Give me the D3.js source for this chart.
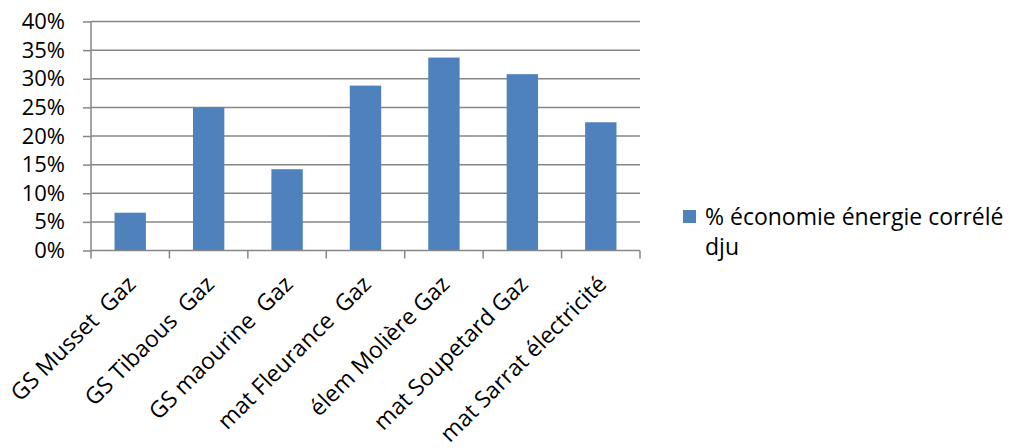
<!DOCTYPE html>
<html lang="fr">
<head>
    <meta charset="UTF-8">
    <title>% économie énergie corrélé dju</title>
    <script src="https://d3js.org/d3.v7.min.js"></script>
    <style>
        body {
            margin: 0;
            padding: 0;
            background: #ffffff;
            overflow: hidden;
        }
        svg {
            display: block;
        }
        text {
            font-family: "Open Sans", "Noto Sans", sans-serif;
            fill: #000;
            white-space: pre;
        }
    </style>
</head>
<body>
    <script>
        // data
        const categories = [
            "GS Musset  Gaz",
            "GS Tibaous  Gaz",
            "GS maourine  Gaz",
            "mat Fleurance  Gaz",
            "élem Molière Gaz",
            "mat Soupetard Gaz",
            "mat Sarrat électricité"
        ];
        const values = [0.066, 0.250, 0.142, 0.288, 0.337, 0.308, 0.224];
        const yTicks = [0, 0.05, 0.10, 0.15, 0.20, 0.25, 0.30, 0.35, 0.40];
        const seriesName = ["% économie énergie corrélé", "dju"];

        const width = 1010, height = 448;
        const plotLeft = 91, plotRight = 640, plotTop = 21.5, plotBottom = 250.5;
        const grey = "#868686";
        const barColor = "#4f81bd";

        const svg = d3.select("body").append("svg")
            .attr("width", width)
            .attr("height", height);

        const x = d3.scaleBand()
            .domain(categories)
            .range([plotLeft, plotRight])
            .paddingInner(0.6)
            .paddingOuter(0.3);

        const y = d3.scaleLinear()
            .domain([0, 0.4])
            .range([plotBottom, plotTop]);

        // y ticks and labels
        const yAxis = d3.axisLeft(y)
            .tickValues(yTicks)
            .tickFormat(d3.format(".0%"))
            .tickSize(8)
            .tickPadding(18);

        const gy = svg.append("g")
            .attr("transform", `translate(${plotLeft},0)`)
            .call(yAxis);
        gy.select(".domain").attr("stroke", grey).attr("stroke-width", 1.5)
            .attr("d", `M0,${plotTop}V${plotBottom}`);
        gy.selectAll(".tick line").attr("stroke", grey).attr("stroke-width", 1.5);
        gy.selectAll(".tick text").style("font-size", "22px").attr("fill", "#000");

        // horizontal gridlines
        svg.append("g")
            .selectAll("line")
            .data(yTicks.slice(1))
            .join("line")
            .attr("x1", plotLeft)
            .attr("x2", plotRight)
            .attr("y1", d => y(d))
            .attr("y2", d => y(d))
            .attr("stroke", grey)
            .attr("stroke-width", 1.5);

        // bars
        svg.append("g")
            .selectAll("rect")
            .data(values)
            .join("rect")
            .attr("x", (d, i) => x(categories[i]))
            .attr("width", x.bandwidth())
            .attr("y", d => y(d))
            .attr("height", d => y(0) - y(d))
            .attr("fill", barColor);

        // x axis line and ticks on band boundaries
        svg.append("line")
            .attr("x1", plotLeft).attr("x2", plotRight)
            .attr("y1", plotBottom).attr("y2", plotBottom)
            .attr("stroke", grey).attr("stroke-width", 1.5);

        const step = x.step();
        const bounds = d3.range(categories.length + 1).map(i => plotLeft + i * step);
        svg.append("g")
            .selectAll("line")
            .data(bounds)
            .join("line")
            .attr("x1", d => d).attr("x2", d => d)
            .attr("y1", plotBottom).attr("y2", plotBottom + 8)
            .attr("stroke", grey).attr("stroke-width", 1.5);

        // rotated category labels
        svg.append("g")
            .selectAll("text")
            .data(categories)
            .join("text")
            .attr("transform", d => `translate(${x(d) + x.bandwidth() / 2 + 7},${plotBottom + 35}) rotate(-45)`)
            .attr("text-anchor", "end")
            .style("font-size", "23px")
            .text(d => d);

        // legend
        const lg = svg.append("g").attr("transform", "translate(683,210)");
        lg.append("rect")
            .attr("width", 13)
            .attr("height", 13)
            .attr("fill", barColor);
        lg.selectAll("text")
            .data(seriesName)
            .join("text")
            .attr("x", 22)
            .attr("y", (d, i) => 15 + i * 30)
            .style("font-size", "23px")
            .text(d => d);
    </script>
</body>
</html>
